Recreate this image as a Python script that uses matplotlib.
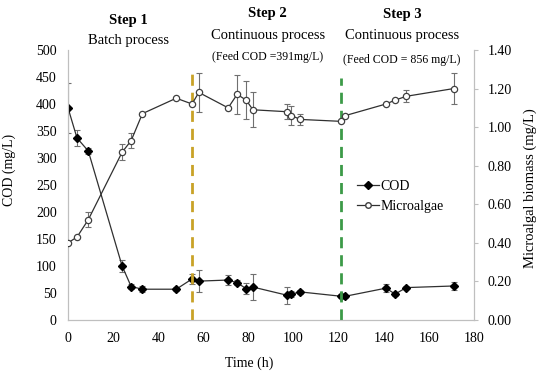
import matplotlib
matplotlib.use("Agg")
import matplotlib.pyplot as plt
from matplotlib.lines import Line2D

plt.rcParams["font.family"] = ["Liberation Serif", "DejaVu Serif"]

# COD (mg/L) data
cod_t = [0, 4, 9, 24, 28, 33, 48, 55, 58, 71, 75, 79, 82, 97, 99, 103, 121, 123, 141, 145, 150, 171]
cod_v = [393, 337, 313, 100, 62, 57, 57, 76, 72, 74, 69, 58, 61, 46, 48, 52, 44, 44, 59, 48, 60, 63]
cod_err = [46, 15, 6, 12, 5, 6, 4, 10, 20, 10, 5, 10, 24, 16, 6, 3, 4, 3, 7, 4, 3, 7]

# Microalgal biomass (mg/L) data
alg_t = [0, 4, 9, 24, 28, 33, 48, 55, 58, 71, 75, 79, 82, 97, 99, 103, 121, 123, 141, 145, 150, 171]
alg_v = [0.40, 0.43, 0.52, 0.87, 0.93, 1.07, 1.15, 1.12, 1.18, 1.10, 1.17, 1.14, 1.09, 1.08, 1.06, 1.04, 1.03, 1.06, 1.12, 1.14, 1.16, 1.20]
alg_err = [0.00, 0.00, 0.04, 0.04, 0.04, 0.00, 0.00, 0.00, 0.10, 0.00, 0.10, 0.10, 0.09, 0.04, 0.05, 0.03, 0.00, 0.00, 0.00, 0.00, 0.03, 0.08]

step_lines = [55, 121]
step_colors = ["#c9a227", "#3c9a48"]

fig = plt.figure(figsize=(5.5, 3.77), dpi=100)
ax = fig.add_axes([0.1236, 0.1512, 0.7382, 0.7162])
ax2 = ax.twinx()

grey = "#bfbfbf"
for a in (ax, ax2):
    for s in a.spines.values():
        s.set_color(grey)
    a.spines["top"].set_visible(False)

# error bars
ax.errorbar(cod_t, cod_v, yerr=cod_err, fmt="none", ecolor="#707070", elinewidth=0.8, capsize=2.5, capthick=0.8, zorder=3)
ax2.errorbar(alg_t, alg_v, yerr=alg_err, fmt="none", ecolor="#707070", elinewidth=0.8, capsize=2.5, capthick=0.8, zorder=3)

ax.plot(cod_t, cod_v, color="#303030", lw=0.9, marker="D", ms=4, mfc="black", mec="black", zorder=4)
ax2.plot(alg_t, alg_v, color="#303030", lw=0.9, marker="o", ms=4.5, mfc="white", mec="#404040", mew=0.9, zorder=4)

for x, c in zip(step_lines, step_colors):
    ax.plot([x, x], [0, 458 if x < 100 else 448], color=c, lw=2, ls=(0, (4, 2.5)), zorder=5)

ax.set_xlim(0, 180)
ax.set_ylim(0, 500)
ax2.set_ylim(0, 1.4)
ax.set_xticks(range(0, 181, 20))
ax.set_yticks(range(0, 501, 50))
ax2.set_yticks([0, 0.2, 0.4, 0.6, 0.8, 1.0, 1.2, 1.4])
ax2.set_yticklabels([f"{v:.2f}" for v in [0, 0.2, 0.4, 0.6, 0.8, 1.0, 1.2, 1.4]])

ax.tick_params(axis="both", length=0, labelsize=10, pad=8)
ax.tick_params(axis="x", pad=9)
ax2.tick_params(axis="y", length=3, color=grey, labelsize=10, pad=7)

fig.text(0.016, 0.55, "COD (mg/L)", rotation=90, ha="center", va="center", fontsize=10)
fig.text(0.965, 0.50, "Microalgal biomass (mg/L)", rotation=90, ha="center", va="center", fontsize=10.5)
fig.text(0.453, 0.037, "Time (h)", ha="center", va="center", fontsize=10)

# step annotations
fig.text(0.233, 0.945, "Step 1", ha="center", va="center", fontsize=10.5, fontweight="bold")
fig.text(0.233, 0.893, "Batch process", ha="center", va="center", fontsize=10.5)
fig.text(0.487, 0.965, "Step 2", ha="center", va="center", fontsize=10.5, fontweight="bold")
fig.text(0.487, 0.905, "Continuous process", ha="center", va="center", fontsize=10.5)
fig.text(0.487, 0.848, "(Feed COD =391mg/L)", ha="center", va="center", fontsize=8.5)
fig.text(0.731, 0.962, "Step 3", ha="center", va="center", fontsize=10.5, fontweight="bold")
fig.text(0.731, 0.905, "Continuous process", ha="center", va="center", fontsize=10.5)
fig.text(0.731, 0.842, "(Feed COD = 856 mg/L)", ha="center", va="center", fontsize=8.5)

handles = [
    Line2D([], [], color="#303030", lw=0.9, marker="D", ms=4, mfc="black", mec="black"),
    Line2D([], [], color="#303030", lw=0.9, marker="o", ms=4, mfc="white", mec="#404040"),
]
ax.legend(handles, ["COD", "Microalgae"], loc="upper left", bbox_to_anchor=(0.68, 0.565),
          frameon=False, fontsize=10, handlelength=1.6, handletextpad=0.1, labelspacing=0.5)

fig.savefig("out.png", dpi=100)
